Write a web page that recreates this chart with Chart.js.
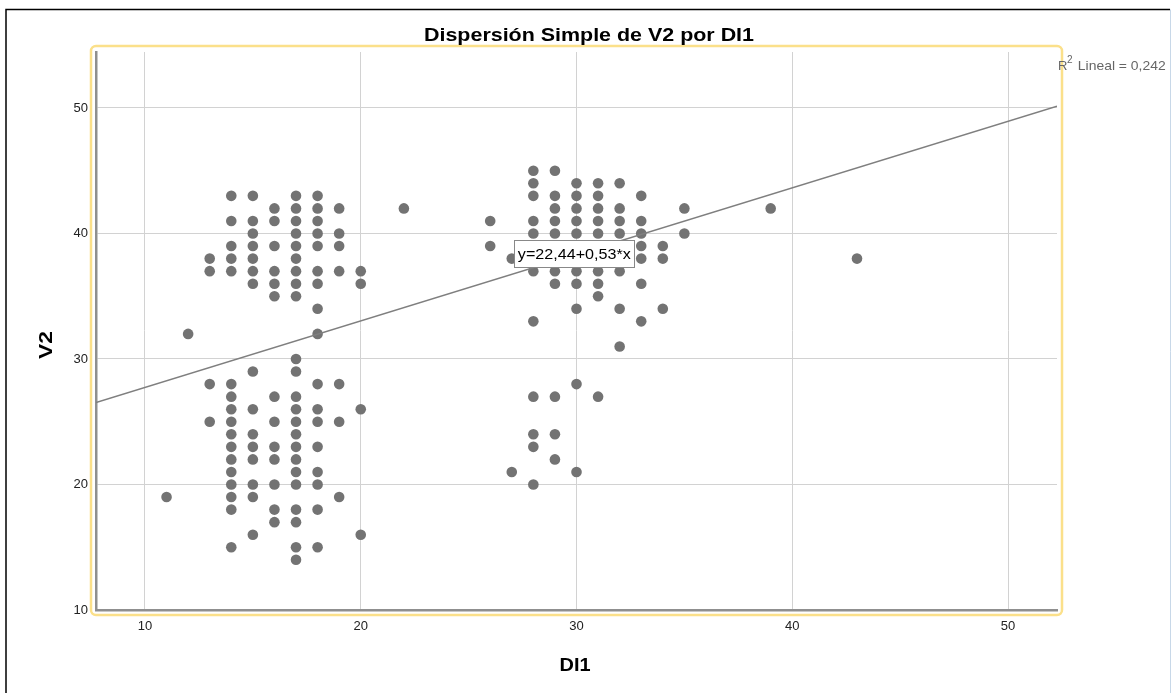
<!DOCTYPE html>
<html>
<head>
<meta charset="utf-8">
<script src="https://cdn.jsdelivr.net/npm/chart.js@4/dist/chart.umd.min.js"></script>
<style>
html,body{margin:0;padding:0;background:#fff;}
#wrap{width:1173px;height:693px;position:relative;}
</style>
</head>
<body>
<div id="wrap"><canvas id="c" width="1173" height="693"></canvas></div>
<script>
// ---- data ----
const di1 = [
  14,15,17,18, 16,17,18,19, 14,15,16,17,18, 15,17,18,19, 14,15,16,17,18,19,
  13,14,15,17, 13,14,15,16,17,18,19,20, 15,16,17,18,20, 16,17, 18, 12,18,
  17, 15,17, 13,14,18,19, 14,16,17, 14,15,17,18,20, 13,14,16,17,18,19,
  14,15,17, 14,15,16,17,18, 14,15,16,17, 14,17,18, 14,15,16,17,18,
  11,14,15,19, 14,16,17,18, 16,17, 15,20, 14,17,18, 17,
  28,29, 28,30,31,32, 28,29,30,31,33, 22,29,30,31,32,35,39,
  26,28,29,30,31,32,33, 28,29,30,31,32,33,35,
  26,28,29,30,31,32,33,34, 27,28,29,30,31,32,33,34,43,
  28,29,30,31,32, 29,30,31,33, 31, 30,32,34, 28,33, 32,
  30, 28,29,31, 28,29, 28, 29, 27,30, 28
];
const v2 = [
  43,43,43,43, 42,42,42,42, 41,41,41,41,41, 40,40,40,40, 39,39,39,39,39,39,
  38,38,38,38, 37,37,37,37,37,37,37,37, 36,36,36,36,36, 35,35, 34, 32,32,
  30, 29,29, 28,28,28,28, 27,27,27, 26,26,26,26,26, 25,25,25,25,25,25,
  24,24,24, 23,23,23,23,23, 22,22,22,22, 21,21,21, 20,20,20,20,20,
  19,19,19,19, 18,18,18,18, 17,17, 16,16, 15,15,15, 14,
  45,45, 44,44,44,44, 43,43,43,43,43, 42,42,42,42,42,42,42,
  41,41,41,41,41,41,41, 40,40,40,40,40,40,40,
  39,39,39,39,39,39,39,39, 38,38,38,38,38,38,38,38,38,
  37,37,37,37,37, 36,36,36,36, 35, 34,34,34, 33,33, 31,
  28, 27,27,27, 24,24, 23, 22, 21,21, 20
];
const xTicks = [10, 20, 30, 40, 50];
const yTicks = [10, 20, 30, 40, 50];
const intercept = 22.44;
const slope = 0.53;
const r2Text = '0,242';
const eqText = 'y=22,44+0,53*x';
const titleText = 'Dispersión Simple de V2 por DI1';
const xTitle = 'DI1';
const yTitle = 'V2';

const xMin = 7.73, xMax = 52.27, yMin = 10, yMax = 54.46;

const points = di1.map((x, i) => ({x: x, y: v2[i]}));
const fitLine = [xMin, xMax].map(x => ({x: x, y: intercept + slope * x}));

const FONT = '"Liberation Sans", Arial, sans-serif';

function wideText(ctx, text, cx, y, font, width) {
  ctx.save();
  ctx.font = font;
  const m = ctx.measureText(text).width;
  const k = width / m;
  ctx.translate(cx, y);
  ctx.scale(k, 1);
  ctx.textAlign = 'center';
  ctx.fillText(text, 0, 0);
  ctx.restore();
}

const deco = {
  id: 'deco',
  beforeDraw(chart) {
    const ctx = chart.ctx;
    ctx.save();
    ctx.fillStyle = '#fff';
    ctx.fillRect(0, 0, chart.width, chart.height);
    ctx.strokeStyle = '#000';
    ctx.lineWidth = 1.5;
    ctx.beginPath();
    ctx.moveTo(6, 693); ctx.lineTo(6, 9.5); ctx.lineTo(1170, 9.5);
    ctx.stroke();
    ctx.strokeStyle = '#c8d8e8';
    ctx.lineWidth = 1;
    ctx.beginPath();
    ctx.moveTo(1170.5, 9.5); ctx.lineTo(1170.5, 693);
    ctx.stroke();
    ctx.strokeStyle = '#fbe08a';
    ctx.lineWidth = 2.5;
    ctx.beginPath();
    ctx.roundRect(91, 46, 971, 569, 5);
    ctx.stroke();
    ctx.restore();
  },
  afterDraw(chart) {
    const ctx = chart.ctx;
    const xs = chart.scales.x, ys = chart.scales.y;
    ctx.save();
    ctx.fillStyle = '#000';
    ctx.textBaseline = 'alphabetic';
    wideText(ctx, titleText, 589, 41, 'bold 18px ' + FONT, 330);
    wideText(ctx, xTitle, 575, 671, 'bold 19px ' + FONT, 31);
    ctx.save();
    ctx.translate(52, 345);
    ctx.rotate(-Math.PI / 2);
    wideText(ctx, yTitle, 0, 0, 'bold 19px ' + FONT, 28);
    ctx.restore();
    ctx.fillStyle = '#666';
    ctx.textAlign = 'left';
    ctx.font = '13px ' + FONT;
    ctx.fillText('R', 1058, 70);
    ctx.font = '10px ' + FONT;
    ctx.fillText('2', 1067, 63);
    ctx.font = '13px ' + FONT;
    ctx.save();
    ctx.translate(1074, 70);
    ctx.scale(1.07, 1);
    ctx.fillText(' Lineal = ' + r2Text, 0, 0);
    ctx.restore();
    const cx = xs.getPixelForValue(29.9), cy = ys.getPixelForValue(38.4);
    const w = 120, h = 27;
    ctx.fillStyle = '#fff';
    ctx.fillRect(cx - w / 2, cy - h / 2, w, h);
    ctx.strokeStyle = '#888';
    ctx.lineWidth = 1;
    ctx.strokeRect(Math.round(cx - w / 2) + 0.5, Math.round(cy - h / 2) + 0.5, w, h);
    ctx.fillStyle = '#000';
    ctx.textBaseline = 'middle';
    wideText(ctx, eqText, cx, cy + 1, '15px ' + FONT, 113);
    ctx.restore();
  }
};

new Chart(document.getElementById('c'), {
  type: 'scatter',
  data: {
    datasets: [
      {
        type: 'line',
        data: fitLine,
        borderColor: '#7f7f7f',
        borderWidth: 1.5,
        pointRadius: 0,
        fill: false,
        tension: 0
      },
      {
        data: points,
        backgroundColor: '#737373',
        borderColor: '#737373',
        pointRadius: 5.3,
        borderWidth: 0
      }
    ]
  },
  options: {
    responsive: false,
    animation: false,
    devicePixelRatio: 1,
    layout: {padding: {left: 0, top: 52, right: 116, bottom: 0}},
    plugins: {legend: {display: false}, tooltip: {enabled: false}, title: {display: false}},
    scales: {
      x: {
        type: 'linear',
        min: xMin, max: xMax,
        afterBuildTicks: s => { s.ticks = xTicks.map(v => ({value: v})); },
        afterFit: s => { s.height = 83; },
        grid: {color: '#d2d2d2', lineWidth: 1, drawTicks: false},
        border: {color: '#8f8f8f', width: 2.5},
        ticks: {color: '#222', font: {family: FONT, size: 13}, padding: 9, maxRotation: 0}
      },
      y: {
        type: 'linear',
        min: yMin, max: yMax,
        afterBuildTicks: s => { s.ticks = yTicks.map(v => ({value: v})); },
        afterFit: s => { s.width = 96; },
        grid: {color: '#d2d2d2', lineWidth: 1, drawTicks: false},
        border: {color: '#8f8f8f', width: 2.5},
        ticks: {color: '#222', font: {family: FONT, size: 13}, padding: 8}
      }
    }
  },
  plugins: [deco]
});
</script>
</body>
</html>
